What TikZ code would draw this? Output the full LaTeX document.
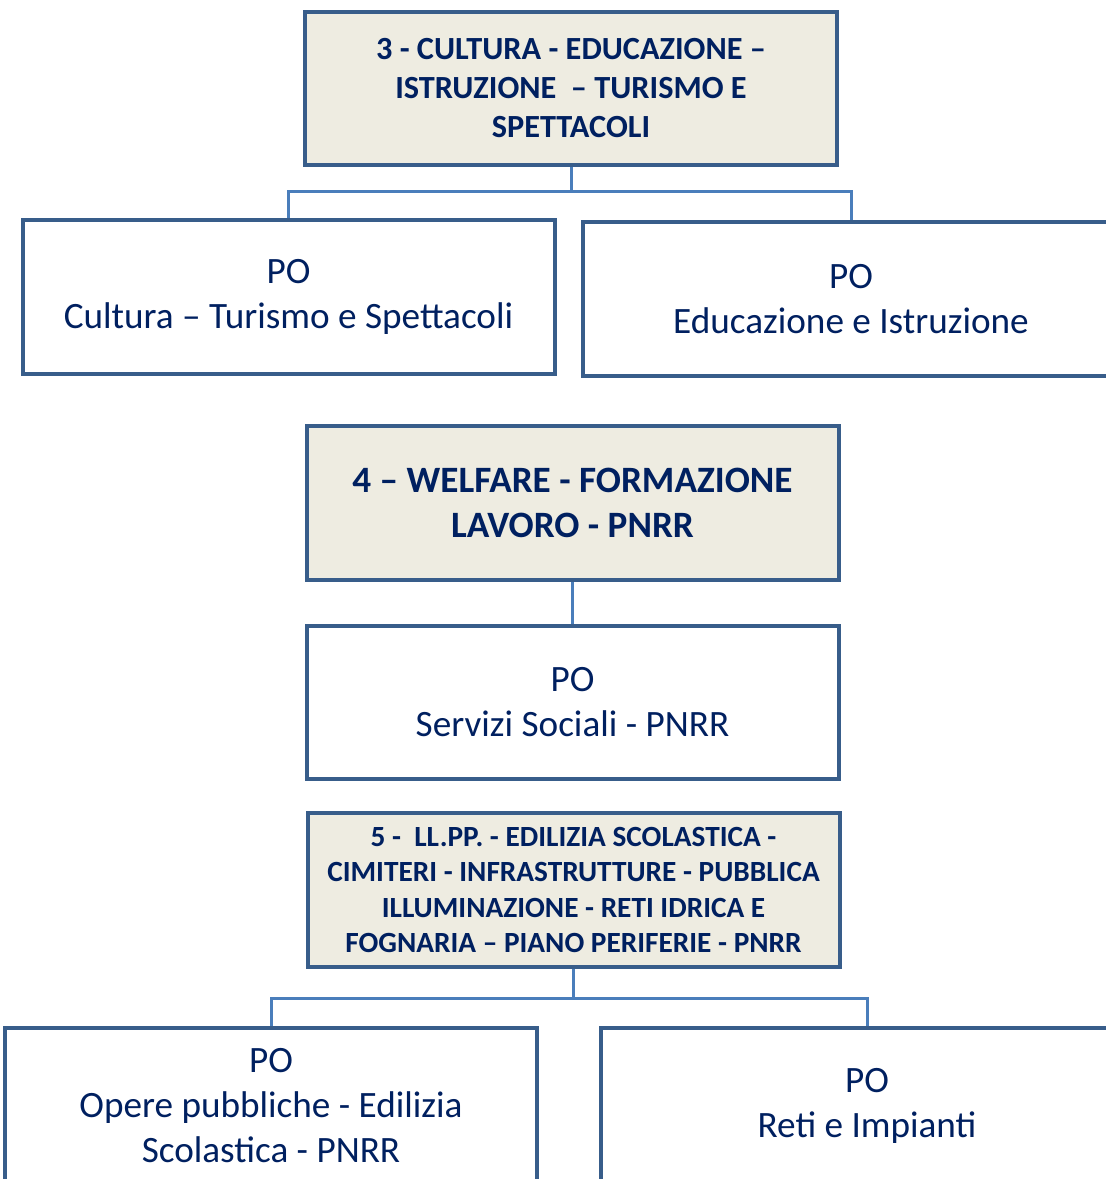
\documentclass[tikz,border=0pt]{standalone}
\usepackage{fontspec}
\setmainfont{Carlito}
\usetikzlibrary{positioning}
\definecolor{navy}{RGB}{0,32,96}
\definecolor{frame}{RGB}{56,93,138}
\definecolor{wire}{RGB}{74,126,187}
\definecolor{beige}{RGB}{238,236,225}
\tikzset{
    area/.style = {draw=frame,line width=4pt,fill=beige,text=navy,align=center,
        inner sep=0,minimum width=532pt,minimum height=153pt,font=\bfseries},
    office/.style = {draw=frame,line width=4pt,fill=white,text=navy,align=center,
        inner sep=0,minimum width=532pt,minimum height=154pt,
        font=\fontsize{37.2}{45}\selectfont},
    link/.style = {draw=wire,line width=3pt}
}
\begin{document}
\begin{tikzpicture}[x=1pt,y=-1pt]
        \useasboundingbox (0,0) rectangle (1106,1179);
        \clip (0,0) rectangle (1106,1179);
        % Areas
        \path (571,88.5) node[area,font=\bfseries\fontsize{32.3}{39}\selectfont] (cult)
            {3 - CULTURA - EDUCAZIONE --\\ISTRUZIONE \ -- TURISMO E\\SPETTACOLI};
        \path (572.5,503) node[area,minimum height=154pt,font=\bfseries\fontsize{37.2}{45}\selectfont] (welf)
            {4 -- WELFARE - FORMAZIONE\\LAVORO - PNRR};
        \path (573.5,890) node[area,minimum height=154pt,font=\bfseries\fontsize{29.3}{35.3}\selectfont] (llpp)
            {5 - \ LL.PP. - EDILIZIA SCOLASTICA -\\CIMITERI - INFRASTRUTTURE - PUBBLICA\\ILLUMINAZIONE - RETI IDRICA E\\FOGNARIA -- PIANO PERIFERIE - PNRR};
        % Offices
        \path (288.5,297) node[office] (po1) {PO\\Cultura -- Turismo e Spettacoli};
        \path (851,299) node[office,minimum width=536pt] (po2) {PO\\Educazione e Istruzione};
        \path (572.5,702.5) node[office,minimum height=153pt] (po3) {PO\\Servizi Sociali - PNRR};
        \path (271,1106) node[office,minimum height=156pt] (po4) {PO\\Opere pubbliche - Edilizia\\Scolastica - PNRR};
        \path (867,1106) node[office,minimum height=156pt] (po5) {PO\\Reti e Impianti};
        % Junctions
        \path (cult.south) ++(0,24) coordinate (j3);
        \path (llpp.south) ++(0,29) coordinate (j5);
        % Links
        \draw[link] (cult.south) -- (j3);
        \foreach \dest in {po1,po2}
            \draw[link] (j3) -| (\dest.north);
        \draw[link] (welf.south) -- (po3.north);
        \draw[link] (llpp.south) -- (j5);
        \foreach \dest in {po4,po5}
            \draw[link] (j5) -| (\dest.north);
    \end{tikzpicture}
\end{document}
